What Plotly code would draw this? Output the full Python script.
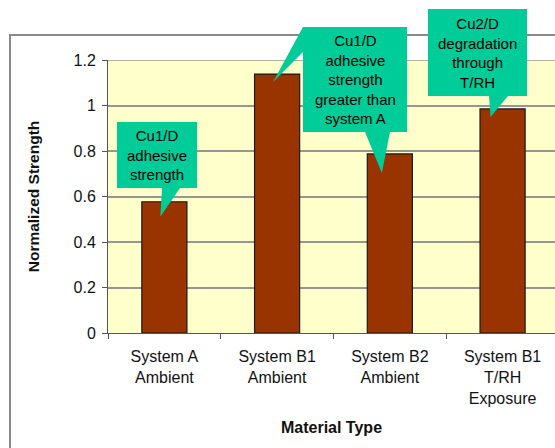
import plotly.graph_objects as go

# Material systems and their normalized adhesion strength
categories = [
    "System A<br>Ambient",
    "System B1<br>Ambient",
    "System B2<br>Ambient",
    "System B1<br>T/RH<br>Exposure",
]
strength = [0.577, 1.138, 0.787, 0.985]
y_ticks = [0, 0.2, 0.4, 0.6, 0.8, 1.0, 1.2]

# Callout texts, the bar each pointer targets
callout_texts = [
    "Cu1/D<br>adhesive<br>strength",
    "Cu1/D<br>adhesive<br>strength<br>greater than<br>system A",
    "Cu2/D<br>degradation<br>through<br>T/RH",
]

W, H = 555, 448
M_L, M_R, M_T, M_B = 108, 0, 60, 115
PW, PH = W - M_L - M_R, H - M_T - M_B
X_RANGE = [-0.5, 3.465]
Y_RANGE = [0, 1.2]

TEAL = "#00CC99"
FONT = "Liberation Sans, Arial, sans-serif"


def px_to_paper(px, py):
    return (px - M_L) / PW, (H - M_B - py) / PH


def data_to_px(xi, yv):
    px = M_L + (xi - X_RANGE[0]) / (X_RANGE[1] - X_RANGE[0]) * PW
    py = (H - M_B) - (yv - Y_RANGE[0]) / (Y_RANGE[1] - Y_RANGE[0]) * PH
    return px, py


def tip(idx, dx, dy):
    px, py = data_to_px(idx, strength[idx])
    return px + dx, py + dy


def path_from(points):
    pts = [px_to_paper(x, y) for x, y in points]
    return "M " + " L ".join(f"{x:.5f},{y:.5f}" for x, y in pts) + " Z"


fig = go.Figure(
    go.Bar(
        x=categories,
        y=strength,
        width=0.4,
        marker=dict(color="#993300", line=dict(color="#1a1a1a", width=1.2)),
        hoverinfo="skip",
    )
)

# Outer chart frame
fx0, fy0 = px_to_paper(10, 35)
fx1, fy1 = px_to_paper(W + 20, H + 20)
shapes = [
    dict(type="rect", xref="paper", yref="paper", x0=fx0, y0=fy0, x1=fx1, y1=fy1,
         line=dict(color="#8a8a8a", width=2), fillcolor="rgba(0,0,0,0)", layer="below"),
    # top gridline at the upper end of the value axis
    dict(type="line", xref="paper", yref="y", x0=0, x1=1, y0=Y_RANGE[1], y1=Y_RANGE[1],
         line=dict(color="#969696", width=1.5), layer="below"),
]

# Callout 1: points to System A bar
t1 = tip(0, -4, 15)
c1 = [(117, 122), (197, 122), (197, 188), (180, 188), t1, (162, 188), (117, 188)]

# Callout 2: points to System B1 and System B2 bars
t2a = tip(1, -4, 8)
t2b = tip(2, -8, 19)
c2 = [(303, 27), (407, 27), (407, 132), (390, 132), t2b, (365, 132), (303, 132),
      (303, 52), t2a]

# Callout 3: points to System B1 T/RH bar
t3 = tip(3, -12, 8)
c3 = [(428, 9), (527, 9), (527, 96), (508, 96), t3, (489, 96), (428, 96)]

for poly in (c1, c2, c3):
    shapes.append(dict(type="path", xref="paper", yref="paper", path=path_from(poly),
                       fillcolor=TEAL, line=dict(width=0), layer="above"))

boxes = [(117, 122, 197, 188), (303, 27, 407, 132), (428, 9, 527, 96)]
annotations = []
for text, (bx0, by0, bx1, by1) in zip(callout_texts, boxes):
    ax_, ay_ = px_to_paper((bx0 + bx1) / 2, (by0 + by1) / 2)
    annotations.append(dict(xref="paper", yref="paper", x=ax_, y=ay_, text=text,
                            showarrow=False, xanchor="center", yanchor="middle",
                            font=dict(family=FONT, size=15, color="#000000")))

fig.update_layout(
    width=W, height=H,
    margin=dict(l=M_L, r=M_R, t=M_T, b=M_B, pad=0),
    paper_bgcolor="white",
    plot_bgcolor="#FFFFCC",
    showlegend=False,
    bargap=0.6,
    font=dict(family=FONT, size=16, color="#111111"),
    shapes=shapes,
    annotations=annotations,
    xaxis=dict(
        type="category",
        range=X_RANGE,
        tickson="boundaries",
        ticks="outside", ticklen=5, tickcolor="#555555",
        ticklabelstandoff=9,
        showline=True, linecolor="#555555", linewidth=1,
        showgrid=False,
        tickfont=dict(size=16),
        title=dict(text="<b>Material Type</b>", font=dict(size=16), standoff=16),
    ),
    yaxis=dict(
        range=Y_RANGE,
        tickvals=y_ticks,
        ticktext=[f"{v:g}" for v in y_ticks],
        ticks="outside", ticklen=5, tickcolor="#555555",
        ticklabelstandoff=3,
        showline=True, linecolor="#555555", linewidth=1,
        showgrid=True, gridcolor="#969696", gridwidth=1.5,
        zeroline=False,
        tickfont=dict(size=16),
        title=dict(text="<b>Normalized Strength</b>", font=dict(size=15.5), standoff=30),
    ),
)

fig.write_html("out.html")
